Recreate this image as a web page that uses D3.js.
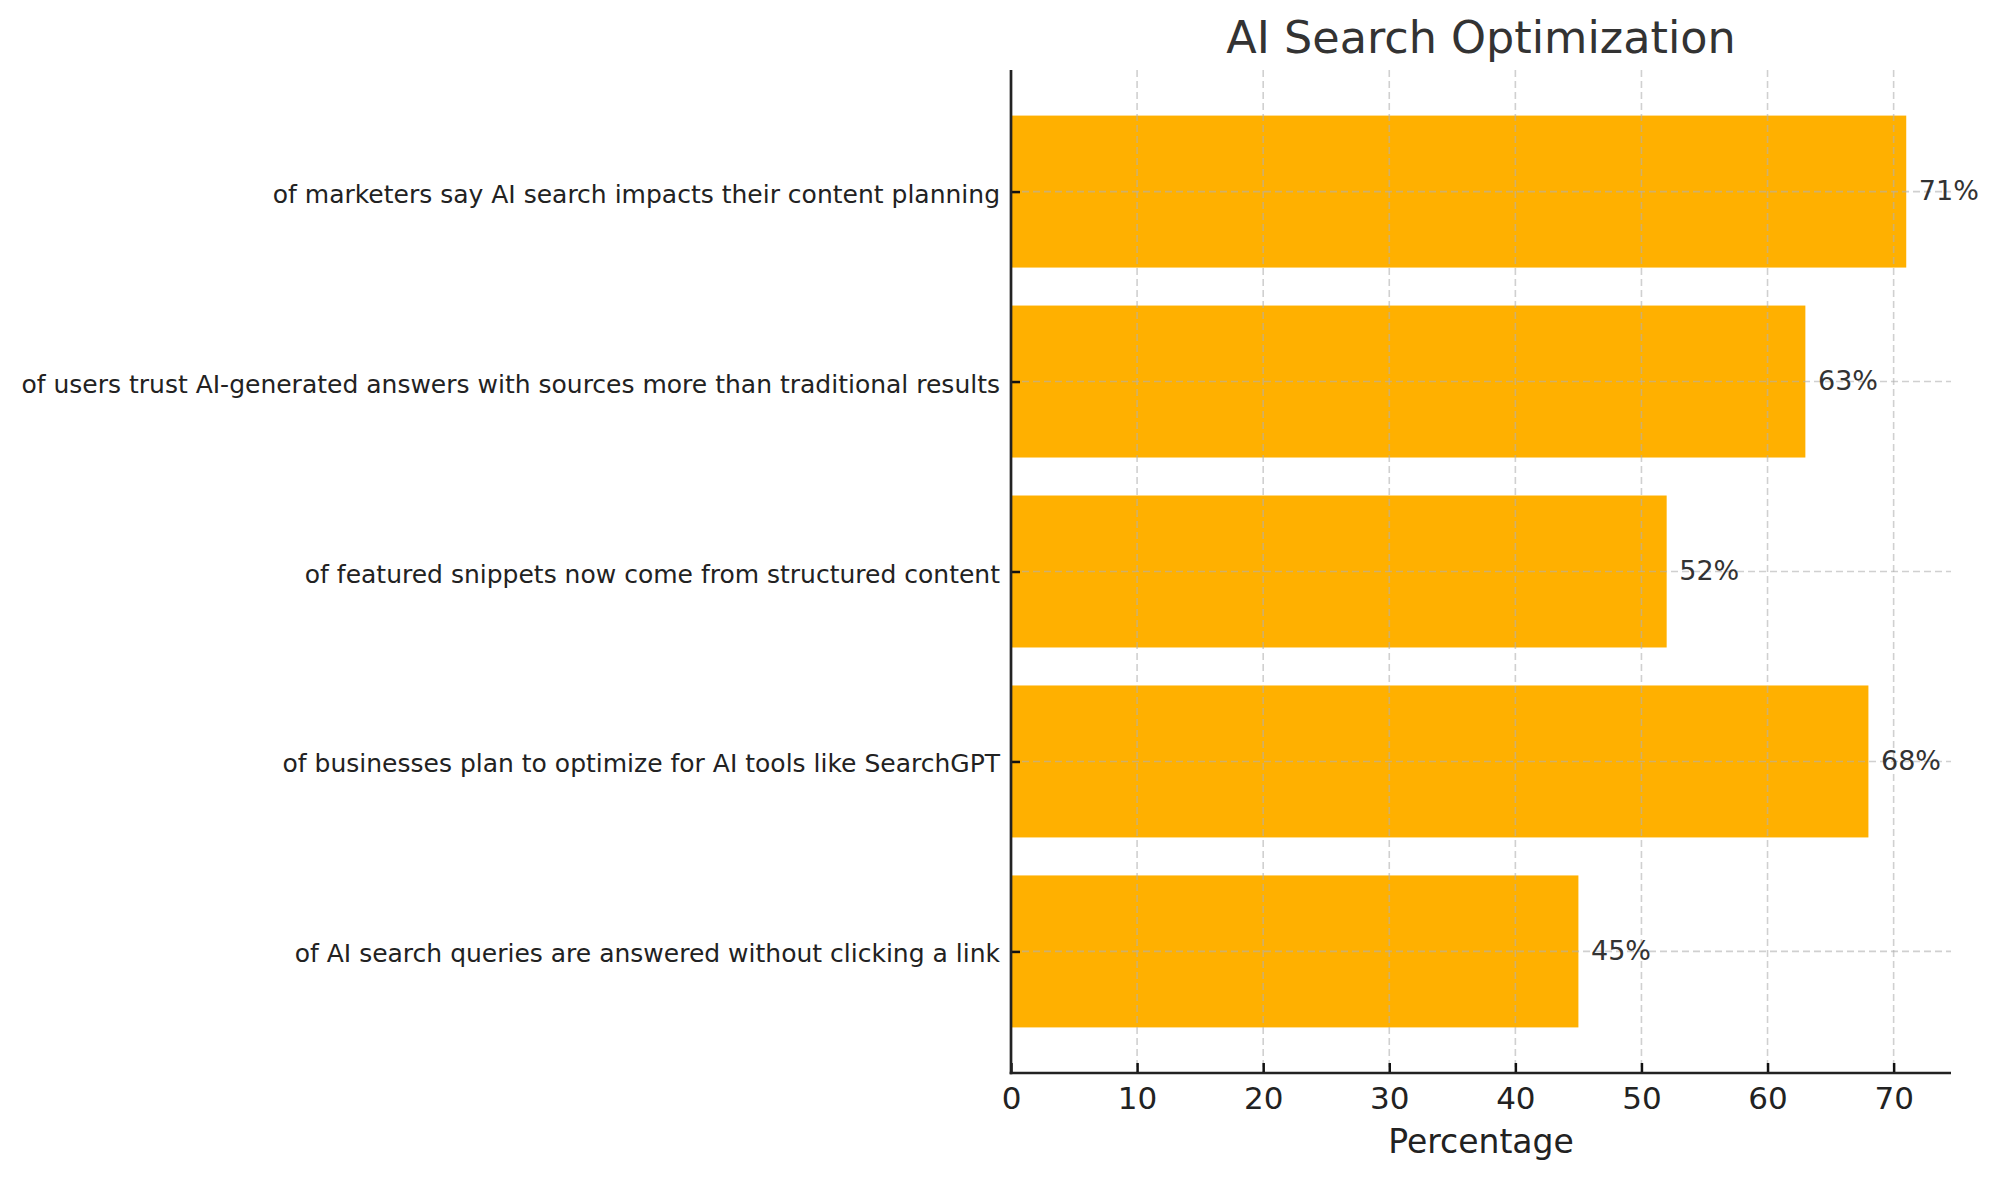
<!DOCTYPE html>
<html>
<head>
<meta charset="utf-8">
<script src="https://cdn.jsdelivr.net/npm/d3@7"></script>
<style>
  html, body { margin: 0; padding: 0; background: #fff; }
  svg { display: block; font-family: "DejaVu Sans", sans-serif; }
</style>
</head>
<body>
<svg id="chart" width="2000" height="1180"></svg>
<script>
// Data (bottom to top, as drawn)
const categories = [
  "of AI search queries are answered without clicking a link",
  "of businesses plan to optimize for AI tools like SearchGPT",
  "of featured snippets now come from structured content",
  "of users trust AI-generated answers with sources more than traditional results",
  "of marketers say AI search impacts their content planning"
];
const values = [45, 68, 52, 63, 71];
const xTicks = [0, 10, 20, 30, 40, 50, 60, 70];
const titleText = "AI Search Optimization";
const xLabelText = "Percentage";

(function () {
const svg = d3.select("#chart");
const pLeft = 1011, pRight = 1951, pTop = 70, pBottom = 1073;

const x = d3.scaleLinear().domain([0, 74.55]).range([pLeft, pRight]);
const y = d3.scaleLinear().domain([-0.64, 4.64]).range([pBottom, pTop]);
const barH = 0.8;

// Bars
svg.append("g").selectAll("rect")
  .data(values)
  .join("rect")
  .attr("x", x(0))
  .attr("y", (d, i) => y(i + barH / 2))
  .attr("width", d => x(d) - x(0))
  .attr("height", (d, i) => y(i - barH / 2) - y(i + barH / 2))
  .attr("fill", "#FFB000");

// Grid (on top, translucent)
const grid = svg.append("g")
  .attr("stroke", "#b0b0b0")
  .attr("stroke-opacity", 0.6)
  .attr("stroke-width", 1.6)
  .attr("stroke-dasharray", "7,4");
grid.selectAll("line.v")
  .data(xTicks)
  .join("line")
  .attr("class", "v")
  .attr("x1", d => x(d)).attr("x2", d => x(d))
  .attr("y1", pTop).attr("y2", pBottom);
grid.selectAll("line.h")
  .data(categories.map((c, i) => i))
  .join("line")
  .attr("class", "h")
  .attr("x1", pLeft).attr("x2", pRight)
  .attr("y1", d => y(d)).attr("y2", d => y(d));

// X axis
const xAxis = svg.append("g")
  .attr("transform", `translate(0,${pBottom})`)
  .call(d3.axisBottom(x).tickValues(xTicks).tickFormat(d3.format("d"))
    .tickSizeInner(-10).tickSizeOuter(0).tickPadding(14));
xAxis.select(".domain").remove();
xAxis.selectAll(".tick line").attr("stroke", "#111").attr("stroke-width", 2.5);
xAxis.selectAll(".tick text")
  .attr("font-size", 31).attr("fill", "#222")
  .attr("font-family", "DejaVu Sans");

// Y axis
const yAxis = svg.append("g")
  .attr("transform", `translate(${pLeft},0)`)
  .call(d3.axisLeft(y).tickValues(categories.map((c, i) => i))
    .tickFormat(i => categories[i])
    .tickSizeInner(-9).tickSizeOuter(0).tickPadding(11));
yAxis.select(".domain").remove();
yAxis.selectAll(".tick line").attr("stroke", "#111").attr("stroke-width", 2.5);
yAxis.selectAll(".tick text")
  .attr("font-size", 25).attr("fill", "#222")
  .attr("dy", "0.42em")
  .attr("font-family", "DejaVu Sans");

// Spines
svg.append("line")
  .attr("x1", pLeft).attr("x2", pLeft)
  .attr("y1", pTop).attr("y2", pBottom + 1.3)
  .attr("stroke", "#222").attr("stroke-width", 2.7);
svg.append("line")
  .attr("x1", pLeft - 1.3).attr("x2", pRight)
  .attr("y1", pBottom).attr("y2", pBottom)
  .attr("stroke", "#222").attr("stroke-width", 2.7);

// Value labels
svg.append("g").selectAll("text")
  .data(values)
  .join("text")
  .attr("x", d => x(d + 1))
  .attr("y", (d, i) => y(i))
  .attr("dy", "0.32em")
  .attr("font-size", 27)
  .attr("fill", "#333")
  .text(d => d + "%");

// Title
svg.append("text")
  .attr("x", (pLeft + pRight) / 2)
  .attr("y", 53)
  .attr("text-anchor", "middle")
  .attr("font-size", 44.5)
  .attr("fill", "#333")
  .text(titleText);

// X label
svg.append("text")
  .attr("x", (pLeft + pRight) / 2)
  .attr("y", 1153)
  .attr("text-anchor", "middle")
  .attr("font-size", 33)
  .attr("fill", "#222")
  .text(xLabelText);
})();
</script>
</body>
</html>
